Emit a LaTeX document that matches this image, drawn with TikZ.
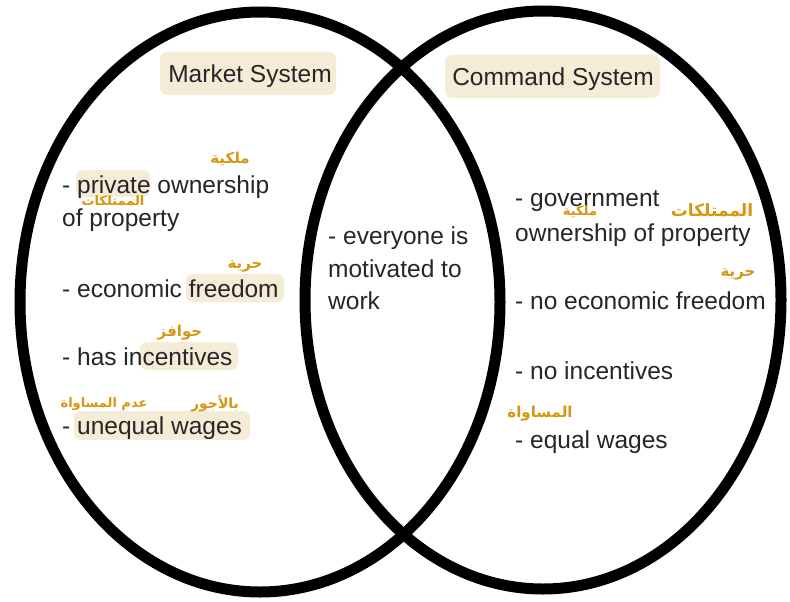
\documentclass[tikz,border=0pt]{standalone}
\usepackage{fontspec}
\setmainfont{Liberation Sans}
\newfontfamily\arabicfont[Script=Arabic]{DejaVu Sans}
\TeXXeTstate=1
\definecolor{hl}{HTML}{F4ECD6}
\definecolor{ann}{HTML}{D8960E}
\definecolor{ink}{HTML}{262626}
\begin{document}
\begin{tikzpicture}[x=1pt,y=-1pt,
  item/.style={anchor=base west, inner sep=0pt, text=ink, font=\fontsize{24.5}{30}\selectfont},
  title/.style={anchor=base, inner sep=0pt, text=ink, font=\fontsize{24.5}{30}\selectfont},
  ar/.style={inner sep=0pt, text=ann, font=\arabicfont\bfseries\fontsize{14}{16}\selectfont},
  ring/.style={draw=black, line width=11pt},
  hlbox/.style={fill=hl, rounded corners=7pt}]
\useasboundingbox (0,0) rectangle (790,602);
\fill[white] (0,0) rectangle (790,602);
% highlights
\fill[hlbox] (160,52) rectangle (336,95);
\fill[hlbox] (445,55) rectangle (660,98);
\fill[hlbox] (76,170) rectangle (150,197);
\fill[hlbox] (186,274) rectangle (284,302);
\fill[hlbox] (140,342) rectangle (238,370);
\fill[hlbox] (74,411) rectangle (250,440);
% ellipses
\draw[ring] (260,302) ellipse [x radius=240pt, y radius=290pt];
\draw[ring] (543,300) ellipse [x radius=238pt, y radius=289pt];
% titles
\node[title] (mkt) at (250,82) {Market System};
\node[title] (cmd) at (553,85) {Command System};
% left list
\node[item] (l1) at (62,193) {- private ownership};
\node[item] (l2) at (62,226) {of property};
\node[item] (l3) at (62,297) {- economic freedom};
\node[item] (l4) at (62,365) {- has incentives};
\node[item] (l5) at (62,434) {- unequal wages};
% middle
\node[item] (m1) at (328,244) {- everyone is};
\node[item] (m2) at (328,277) {motivated to};
\node[item] (m3) at (328,309) {work};
% right list
\node[item] (r1) at (515,206) {- government};
\node[item] (r2) at (515,241) {ownership of property};
\node[item] (r3) at (515,309) {- no economic freedom};
\node[item] (r4) at (515,379) {- no incentives};
\node[item] (r5) at (515,448) {- equal wages};
% arabic annotations
\node[ar, font=\arabicfont\bfseries\fontsize{15}{17}\selectfont] (a1) at (230,159) {\beginR ملكية\endR};
\node[ar, font=\arabicfont\bfseries\fontsize{13}{15}\selectfont] (a2) at (113,201) {\beginR الممتلكات\endR};
\node[ar, font=\arabicfont\bfseries\fontsize{15}{17}\selectfont] (a3) at (245,266) {\beginR حرية\endR};
\node[ar, font=\arabicfont\bfseries\fontsize{15}{17}\selectfont] (a4) at (180,333) {\beginR حوافز\endR};
\node[ar, font=\arabicfont\bfseries\fontsize{13}{15}\selectfont] (a5) at (104,404) {\beginR عدم المساواة\endR};
\node[ar] (a6) at (215,404) {\beginR بالأجور\endR};
\node[ar, font=\arabicfont\bfseries\fontsize{13}{15}\selectfont] (a7) at (580,212) {\beginR ملكية\endR};
\node[ar, font=\arabicfont\bfseries\fontsize{17}{19}\selectfont] (a8) at (712,210) {\beginR الممتلكات\endR};
\node[ar, font=\arabicfont\bfseries\fontsize{15}{17}\selectfont] (a9) at (738,274) {\beginR حرية\endR};
\node[ar, font=\arabicfont\bfseries\fontsize{15}{17}\selectfont] (a10) at (540,414) {\beginR المساواة\endR};
\end{tikzpicture}
\end{document}
